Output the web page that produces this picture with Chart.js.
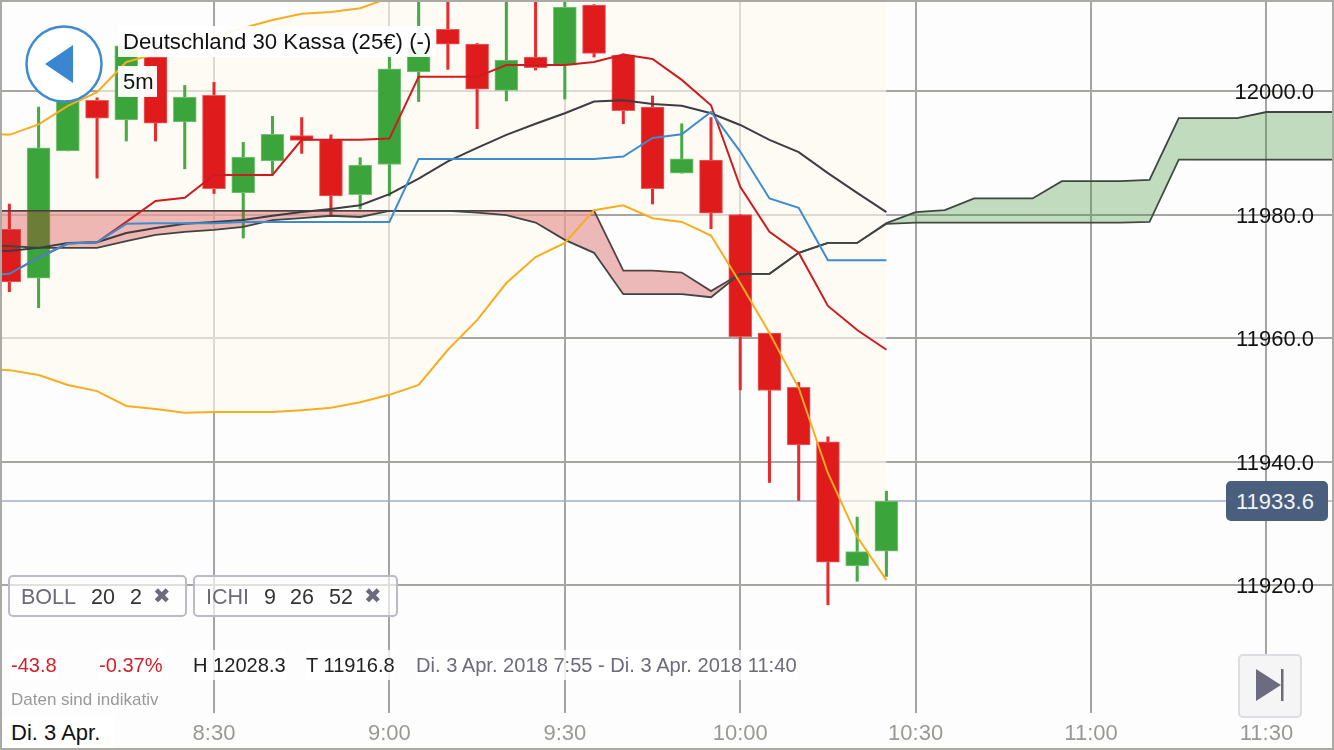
<!DOCTYPE html>
<html lang="de">
<head>
<meta charset="utf-8">
<title>Deutschland 30 Kassa</title>
<script src="https://cdn.jsdelivr.net/npm/chart.js@4"></script>
<style>
html,body{margin:0;padding:0;background:#fdfdfd;width:1334px;height:750px;overflow:hidden;font-family:"Liberation Sans",Arial,sans-serif}
#wrap{position:relative;width:1334px;height:750px}
canvas{position:absolute;left:0;top:0}
#frame{position:absolute;left:0;top:0;width:1330px;height:746px;border:2px solid #aaaaa4;pointer-events:none}
.t{position:absolute;white-space:nowrap;line-height:30px;height:30px}
.chip{position:absolute;top:575px;height:38px;border:2px solid #b9bbc6;border-radius:5px;background:rgba(255,255,255,.65)}
.c{font-size:21.5px;top:582px;color:#333}
.g{color:#6b6b7b}
.x{font-family:"DejaVu Sans";font-size:21px;color:#6b6b7b}
.s{font-size:20.1px;top:650px;background:rgba(255,255,255,.8)}
</style>
</head>
<body>
<div id="wrap">
<canvas id="chart" width="1334" height="750"></canvas>
<div style="position:absolute;left:0;top:713px;width:1334px;height:3px;background:#fdfdfd"></div>

<div class="t" style="left:118px;top:26px;height:31px;width:318px;background:rgba(255,255,255,.93)"></div>
<div class="t" style="left:123px;top:27px;font-size:22.2px;color:#111">Deutschland 30 Kassa (25€) (-)</div>
<div class="t" style="left:118px;top:66px;height:31px;width:39px;background:rgba(255,255,255,.96)"></div>
<div class="t" style="left:123px;top:67px;font-size:22px;color:#111">5m</div>

<svg style="position:absolute;left:24px;top:24px" width="80" height="80">
  <circle cx="40" cy="40" r="37.5" fill="#fff" stroke="#3f8bcf" stroke-width="2.5"/>
  <polygon points="21,40 49,21 49,59" fill="#3a87cf"/>
</svg>

<div class="chip" style="left:8px;width:175px"></div>
<div class="chip" style="left:193px;width:201px"></div>
<div class="t c g" style="left:21px">BOLL</div>
<div class="t c" style="left:91px">20</div>
<div class="t c" style="left:130px">2</div>
<div class="t x" style="left:153px;top:581px">✖</div>
<div class="t c g" style="left:206px">ICHI</div>
<div class="t c" style="left:264px">9</div>
<div class="t c" style="left:290px">26</div>
<div class="t c" style="left:329px">52</div>
<div class="t x" style="left:364px;top:581px">✖</div>

<div class="t s" style="left:11px;color:#d3202a">-43.8</div>
<div class="t s" style="left:99px;color:#d3202a">-0.37%</div>
<div class="t s" style="left:193px;color:#222">H 12028.3</div>
<div class="t s" style="left:306px;color:#222">T 11916.8</div>
<div class="t s" style="left:416px;color:#6b6b7b">Di. 3 Apr. 2018 7:55 - Di. 3 Apr. 2018 11:40</div>
<div class="t" style="left:11px;top:685px;font-size:17px;color:#999">Daten sind indikativ</div>
<div class="t" style="left:0;top:716px;width:114px;height:32px;background:#fff"></div>
<div class="t" style="left:11px;top:718px;font-size:22px;color:#111">Di. 3 Apr.</div>

<div class="t" style="left:1226px;top:481px;width:102px;height:40px;border-radius:5px;background:#4a5f7e"></div>
<div class="t" style="left:1236px;top:487px;font-size:22px;color:#f2f4f7">11933.6</div>

<svg style="position:absolute;left:1238px;top:654px" width="64" height="64">
  <rect x="1" y="1" width="62" height="62" rx="4" fill="#f5f5f6" stroke="#dcdce2" stroke-width="2"/>
  <polygon points="18,15 18,47 43,31" fill="#6d6b7e"/>
  <rect x="43" y="15" width="2.5" height="32" fill="#6d6b7e"/>
</svg>
<div id="frame"></div>
</div>

<script>
// 5-minute candles, minutes since midnight
const candleTimes = [475,480,485,490,495,500,505,510,515,520,525,530,535,540,545,550,555,560,565,570,575,580,585,590,595,600,605,610,615,620,625];
const opens  = [11977.6,11969.7,11990.3,11998.5,11995.3,12005.5,11995.0,11999.3,11983.5,11988.7,11992.8,11992.1,11983.2,11988.1,12003.1,12010.0,12007.6,12000.1,12005.5,12004.2,12013.9,12005.8,11997.4,11986.7,11988.8,11980.0,11960.8,11952.0,11943.2,11923.1,11925.5];
const highs  = [11981.7,11997.4,12000.2,11998.9,12009.0,12008.0,12000.9,12001.4,11991.7,11995.9,11995.7,11992.9,11989.2,12006.0,12020.0,12018.0,12007.7,12020.0,12028.3,12016.0,12014.0,12006.0,11999.2,11994.7,11995.7,11980.0,11960.8,11952.8,11944.0,11931.0,11935.2];
const lows   = [11967.5,11964.9,11990.3,11985.9,11991.9,11991.9,11987.4,11983.4,11976.2,11986.4,11989.9,11979.9,11980.9,11983.0,11998.3,12003.5,11993.9,11998.4,12003.4,11998.7,12005.5,11994.7,11981.7,11986.7,11977.7,11951.6,11936.6,11933.7,11916.8,11920.6,11921.4];
const closes = [11969.1,11990.8,11998.9,11995.6,12007.3,11994.8,11999.0,11984.2,11989.3,11993.0,11992.0,11983.0,11988.0,12003.6,12007.0,12007.6,12000.3,12005.0,12003.8,12013.6,12006.1,11996.8,11984.2,11989.0,11980.2,11960.2,11951.5,11942.7,11923.7,11925.4,11933.6];

// Indicator lines, one earlier sample runs off the left edge
const lineTimes = [470,475,480,485,490,495,500,505,510,515,520,525,530,535,540,545,550,555,560,565,570,575,580,585,590,595,600,605,610,615,620,625];
const bollUpper = [11993.2,11992.9,11994.6,11997.6,11999.8,12004.7,12006.0,12007.4,12008.9,12010.2,12011.5,12012.5,12012.8,12013.4,12015.1,12017.2,12019.0,12021.0,12023.0,12025.0,12026.0,12027.0,12027.0,12027.0,12027.0,12027.0,12028.0,12029.0,12031.0,12032.0,12032.0,12032.0];
const bollLower = [11955.0,11954.8,11954.0,11952.4,11951.4,11949.0,11948.5,11947.9,11948.0,11948.0,11948.0,11948.3,11948.7,11949.6,11950.8,11952.4,11958.1,11962.9,11968.9,11973.1,11975.4,11980.7,11981.5,11979.4,11978.8,11976.6,11968.9,11960.8,11951.9,11938.1,11927.8,11920.8];
const bollMid   = [11974.1,11974.1,11974.6,11975.4,11975.5,11977.0,11977.8,11978.5,11978.8,11979.1,11979.8,11980.4,11980.9,11981.5,11983.3,11985.8,11988.6,11990.8,11992.9,11994.7,11996.4,11998.3,11998.5,11997.9,11997.6,11996.4,11994.5,11992.1,11990.1,11986.7,11983.5,11980.4];
const tenkan    = [11970.0,11970.4,11973.0,11975.3,11975.5,11978.8,11982.2,11982.7,11986.4,11986.4,11986.4,11992.1,11992.1,11992.1,11992.3,12002.3,12002.3,12002.3,12004.2,12004.2,12004.2,12004.7,12005.9,12005.2,12001.8,11997.7,11984.5,11977.2,11973.8,11965.2,11961.3,11958.1];
const kijun     = [11970.0,11970.4,11973.0,11975.3,11975.5,11978.5,11978.6,11978.6,11978.6,11978.8,11978.8,11978.8,11978.8,11978.8,11978.8,11989.0,11989.0,11989.0,11989.0,11989.0,11989.0,11989.0,11989.4,11992.4,11993.0,11996.6,11990.2,11982.6,11981.1,11972.6,11972.6,11972.6];

// Ichimoku cloud spans, projected 26 periods ahead (visible part)
const cloudTimes = [470,475,480,485,490,495,500,505,510,515,520,525,530,535,540,545,550,555,560,565,570,575,580,585,590,595,600,605,610,615,620,625,630,635,640,645,650,655,660,665,670,675,680,685,690,695,700,705];
const spanA = [11975.1,11974.9,11974.6,11974.6,11974.6,11975.7,11976.7,11977.2,11977.5,11978.0,11979.1,11979.4,11979.8,11979.6,11980.6,11980.6,11980.6,11980.3,11979.9,11978.7,11975.9,11973.8,11967.1,11967.1,11967.1,11966.6,11970.4,11970.4,11973.8,11975.4,11975.4,11978.6,11980.4,11980.7,11982.6,11982.6,11982.6,11985.4,11985.4,11985.4,11985.6,11995.6,11995.6,11995.6,11996.6,11996.6,11996.6,11996.6];
const spanB = [11980.6,11980.6,11980.6,11980.6,11980.6,11980.6,11980.6,11980.6,11980.6,11980.6,11980.6,11980.6,11980.6,11980.6,11980.6,11980.6,11980.6,11980.6,11980.6,11980.6,11980.6,11980.6,11970.9,11970.9,11970.6,11967.6,11970.4,11970.4,11973.8,11975.4,11975.4,11978.5,11978.7,11978.7,11978.7,11978.7,11978.7,11978.7,11978.7,11978.7,11978.8,11988.9,11988.9,11988.9,11988.9,11988.9,11988.9,11988.9];

const lastPrice = 11933.6;
const priceSpan = [470, 705];

const xyOf = (xs, ys) => ys.map((y, i) => ({x: xs[i], y}));
const isUp = i => closes[i] >= opens[i];
const line = (xs, ys, color, width, order, extra) => Object.assign({
  type: 'line', data: xyOf(xs, ys), borderColor: color, borderWidth: width, order,
  pointRadius: 0, tension: 0, fill: false
}, extra || {});

// The reference prints its price labels a little below the grid line
const nudgePriceLabels = {
  id: 'nudgePriceLabels',
  beforeDraw(chart) {
    for (const item of chart.scales.y.getLabelItems()) {
      item.options.translation = [item.options.translation[0], item.options.translation[1] + 2];
    }
  }
};

new Chart(document.getElementById('chart'), {
  type: 'line',
  plugins: [nudgePriceLabels],
  data: {
    datasets: [
      line(priceSpan, [lastPrice, lastPrice], '#a2aec1', 1.5, 30),
      line(lineTimes, bollUpper, 'rgba(0,0,0,0)', 0, 20, {fill: '+1', backgroundColor: 'rgba(255,250,240,0.62)'}),
      line(lineTimes, bollLower, 'rgba(0,0,0,0)', 0, 20),
      {
        type: 'bar', order: 12, grouped: false, barThickness: 2.4, borderWidth: 0,
        data: candleTimes.map((x, i) => ({x, y: [lows[i], highs[i]]})),
        backgroundColor: candleTimes.map((_, i) => isUp(i) ? '#45ab45' : '#e62c2c')
      },
      {
        type: 'bar', order: 10, grouped: false, barThickness: 23, borderWidth: 1, borderSkipped: false,
        data: candleTimes.map((x, i) => ({x, y: [opens[i], closes[i]]})),
        backgroundColor: candleTimes.map((_, i) => isUp(i) ? '#3ba53c' : '#e01b1c'),
        borderColor: candleTimes.map((_, i) => isUp(i) ? '#7cc47d' : '#ea5f60')
      },
      line(cloudTimes, spanA, '#3e4543', 1.8, 6, {fill: {target: '+1', above: 'rgba(60,145,55,0.31)', below: 'rgba(205,50,50,0.34)'}}),
      line(cloudTimes, spanB, '#3e4543', 1.8, 6),
      line(lineTimes, bollUpper, '#f6ad1e', 2, 3),
      line(lineTimes, bollLower, '#f6ad1e', 2, 3),
      line(lineTimes, bollMid, '#3c3c42', 2, 4),
      line(lineTimes, tenkan, '#cd1c20', 2, 5),
      line(lineTimes, kijun, '#3d8ccf', 2, 2)
    ]
  },
  options: {
    responsive: false,
    animation: false,
    devicePixelRatio: 1,
    layout: {padding: 0},
    plugins: {legend: {display: false}, tooltip: {enabled: false}, title: {display: false}},
    scales: {
      x: {
        type: 'linear', position: 'bottom', offset: false,
        min: 473.4, max: 701.55,
        grid: {color: '#a5a5a2', lineWidth: 2, drawTicks: false, offset: false},
        border: {display: false},
        afterBuildTicks: s => { s.ticks = s.ticks.filter(t => t.value >= 510); },
        afterFit: s => { s.height = 35; s.paddingLeft = 0; s.paddingRight = 0; },
        ticks: {
          stepSize: 30, includeBounds: false, autoSkip: false, maxRotation: 0, padding: 6,
          color: '#999994', font: {family: '"Liberation Sans"', size: 22},
          callback: v => Math.floor(v / 60) + ':' + String(v % 60).padStart(2, '0')
        }
      },
      y: {
        type: 'linear', position: 'right',
        min: 11898.95, max: 12014.74,
        grid: {color: '#a5a5a2', lineWidth: 2, drawTicks: false},
        border: {display: false},
        afterBuildTicks: s => { s.ticks = s.ticks.filter(t => t.value >= 11920); },
        afterFit: s => { s.width = 0; s.paddingTop = 0; s.paddingBottom = 0; },
        ticks: {
          stepSize: 20, includeBounds: false, autoSkip: false, mirror: true, padding: -20,
          color: '#111', font: {family: '"Liberation Sans"', size: 22},
          callback: v => v.toFixed(1)
        }
      }
    }
  }
});
</script>
</body>
</html>
